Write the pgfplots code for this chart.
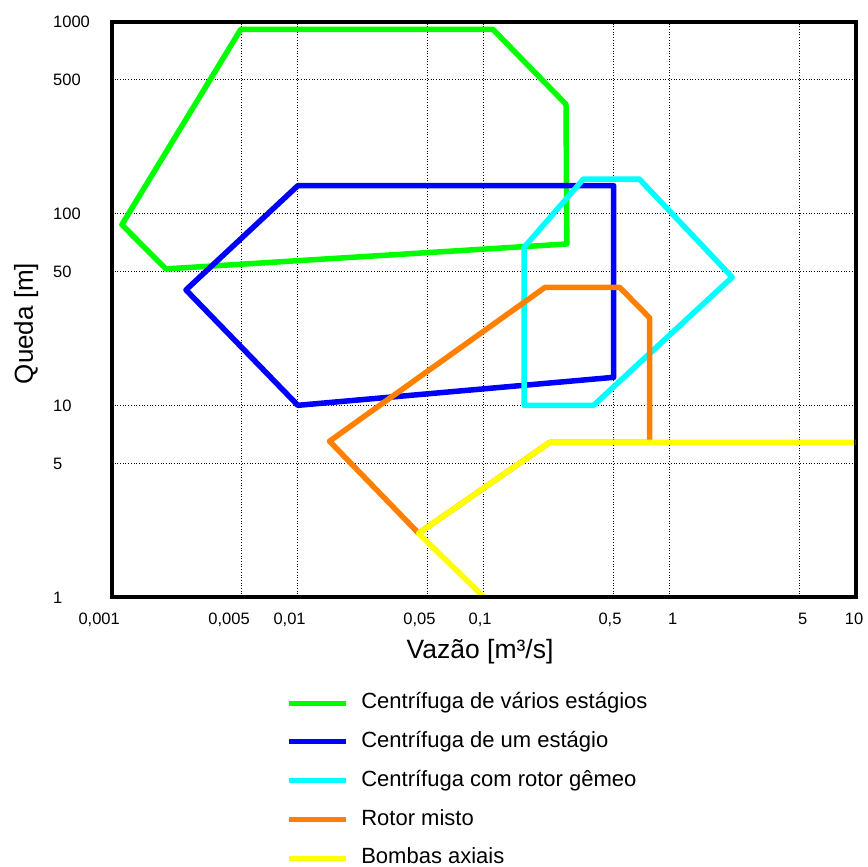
\documentclass[border=0pt]{standalone}
\usepackage{pgfplots}
\pgfplotsset{compat=1.18}
\usepackage{fontspec}
\setmainfont{Liberation Sans}
\definecolor{cgreen}{RGB}{0,255,0}
\definecolor{cblue}{RGB}{0,0,255}
\definecolor{ccyan}{RGB}{0,255,255}
\definecolor{corange}{RGB}{255,128,0}
\definecolor{cyellow}{RGB}{255,255,0}
\begin{document}
\begin{tikzpicture}
\useasboundingbox (-112pt,-270pt) rectangle (756pt,597pt);
\begin{axis}[
  at={(0pt,0pt)}, anchor=south west,
  scale only axis, width=743.5pt, height=575pt,
  xmode=log, ymode=log,
  xmin=0.001, xmax=10, ymin=1, ymax=1000,
  xtick={0.001,0.005,0.01,0.05,0.1,0.5,1,5,10},
  xticklabels={{0,001},{0,005},{0,01},{0,05},{0,1},{0,5},1,5,10},
  ytick={1,5,10,50,100,500,1000},
  yticklabels={1,5,10,50,100,500,1000},
  minor xtick={}, minor ytick={},
  tick style={draw=none},
  major tick length=0pt,
  grid=major,
  major grid style={black, line width=0.9pt, dash pattern=on 0.9pt off 1.8pt},
  axis line style={line width=4pt},
  /pgf/number format/assume math mode=true,
  xticklabel style={font=\fontsize{16.5}{18}\selectfont, anchor=north east, inner sep=0pt, text height=12pt, text depth=0pt, xshift=8pt, yshift=-15pt},
  yticklabel style={font=\fontsize{16.5}{18}\selectfont, anchor=west, inner sep=0pt, text height=12pt, text depth=0pt, xshift=-59pt},
  every axis x label/.style={at={(axis description cs:0.495,-0.1061)}, anchor=base, font=\fontsize{26.5}{30}\selectfont, inner sep=0pt},
  every axis y label/.style={at={(axis description cs:-0.1063,0.4757)}, rotate=90, anchor=base, font=\fontsize{26}{30}\selectfont, inner sep=0pt},
  xlabel={Vazão [m³/s]},
  ylabel={Queda [m]},
  legend style={at={(axis description cs:0.235,-0.1668)}, anchor=north west, draw=none, fill=none, inner sep=0pt, outer sep=0pt, row sep=18.25pt, column sep=13pt, font=\fontsize{22}{26}\selectfont, nodes={inner sep=0pt, text height=16pt, text depth=4.5pt}, cells={anchor=west}},
  legend image code/.code={\draw[#1, line width=5pt, line cap=butt] (0pt,0pt) -- (56.6pt,0pt);},
  every axis plot/.append style={line width=5.5pt, line join=round, line cap=round},
]
\addplot[cgreen] coordinates {(0.00113,87.6) (0.00195,51.5) (0.28,69.5) (0.277,372) (0.112,916) (0.00493,916) (0.00113,87.6)};
\addlegendentry{Centrífuga de vários estágios}
\addplot[cblue] coordinates {(0.0025,40) (0.01,140) (0.5,140) (0.5,14) (0.01,10) (0.0025,40)};
\addlegendentry{Centrífuga de um estágio}
\addplot[ccyan] coordinates {(0.165,66.8) (0.344,151.6) (0.687,151.6) (2.17,46.6) (0.39,10) (0.165,10) (0.165,66.8)};
\addlegendentry{Centrífuga com rotor gêmeo}
\addplot[corange] coordinates {(0.0148,6.5) (0.214,41.3) (0.538,41.3) (0.781,28.6) (0.781,6.4) (0.226,6.4) (0.0446,2.15) (0.0148,6.5)};
\addlegendentry{Rotor misto}
\addplot[cyellow] coordinates {(0.1,1) (0.0446,2.15) (0.226,6.4) (10,6.4)};
\addlegendentry{Bombas axiais}
\draw[line width=4pt] (rel axis cs:0,0) rectangle (rel axis cs:1,1);
\end{axis}
\end{tikzpicture}
\end{document}
